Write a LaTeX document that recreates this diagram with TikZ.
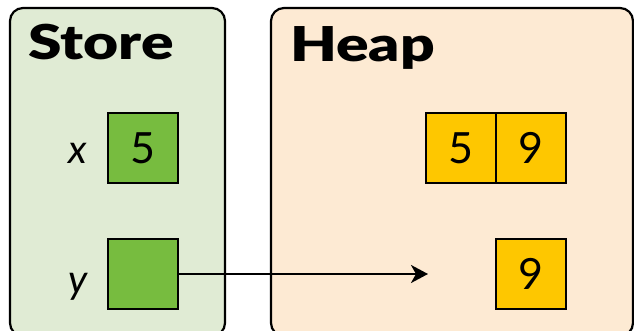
\documentclass[tikz,border=0pt]{standalone}
\usepackage{fontspec}
\setmainfont{Lato}
\newfontfamily\titlefont{Lato Black}
\usetikzlibrary{arrows.meta}
\definecolor{storebg}{HTML}{E0EBD4}
\definecolor{heapbg}{HTML}{FDEAD3}
\definecolor{cellgreen}{HTML}{77BC3F}
\definecolor{cellyellow}{HTML}{FEC700}
\begin{document}
\begin{tikzpicture}[x=1pt,y=-1pt,
  panel/.style={draw=black, line width=2.2pt, rounded corners=13pt},
  title/.style={anchor=base west, inner sep=0pt, xscale=1.26, font=\fontsize{48}{48}\selectfont\titlefont},
  cell/.style={draw=black, line width=2pt, minimum width=70pt, minimum height=70pt,
    inner sep=0pt, font=\fontsize{43}{43}\selectfont},
  storecell/.style={cell, fill=cellgreen},
  heapcell/.style={cell, fill=cellyellow},
  varname/.style={inner sep=0pt, font=\fontsize{40}{40}\selectfont\itshape},
  pointer/.style={line width=2.6pt, -{Stealth[length=17pt, width=18pt, inset=5pt]}}]
\useasboundingbox (0,0) rectangle (634,331);
\clip (0,0) rectangle (634,331);
% the two memory regions
\draw[panel, fill=storebg] (10,8) rectangle (225,336);
\draw[panel, fill=heapbg] (271,8) rectangle (633,336);
\node[title] (storetitle) at (28,60) {Store};
\node[title] (heaptitle) at (290,62) {Heap};
% store cells
\node[storecell] (xcell) at (142.5,148) {5};
\node[storecell] (ycell) at (142.5,274) {};
\node[varname, anchor=base] (xname) at (78,164) {x};
\node[varname, anchor=base] (yname) at (78,293) {y};
% heap cells
\node[heapcell] (pairA) at (461,148) {5};
\node[heapcell] (pairB) at (531,148) {9};
\node[heapcell] (single) at (531,274) {9};
% pointer from y
\coordinate (ptrend) at (428,274);
\draw[pointer] (ycell.east) -- (ptrend);
\end{tikzpicture}
\end{document}
